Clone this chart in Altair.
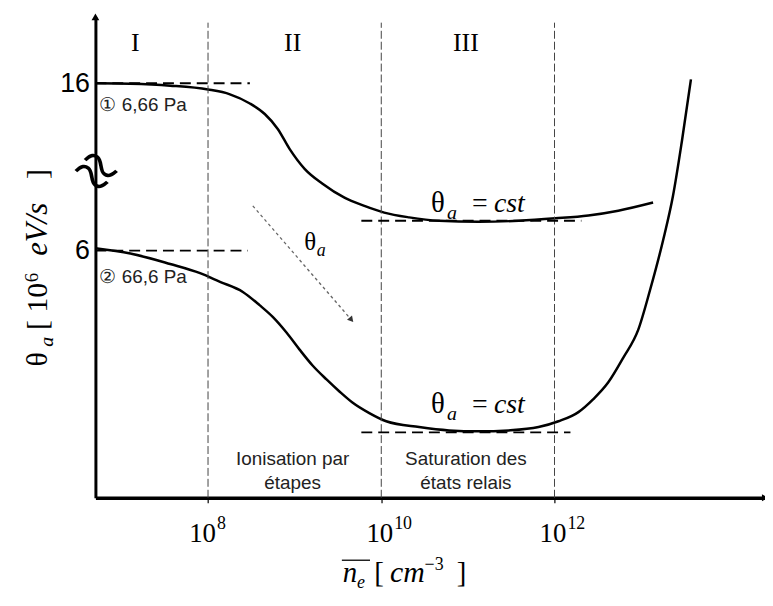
import altair as alt
import pandas as pd

# ---- data (x = log10 of n_e in cm^-3, y = schematic theta units 0..100) ----
x_curve1 = [6.70, 7.103, 7.563, 8.0, 8.253, 8.483, 8.655, 8.805, 8.943, 9.115, 9.322, 9.575,
            9.805, 10.034, 10.322, 10.667, 11.126, 11.586, 12.011, 12.391, 12.736, 13.138]
y_curve1 = [86.2, 86.1, 85.7, 84.9, 83.9, 82.0, 79.8, 76.7, 72.5, 68.4, 65.3, 62.4,
            60.7, 59.3, 58.3, 57.6, 57.4, 57.6, 58.1, 58.7, 59.7, 61.4]

x_curve2 = [6.70, 7.103, 7.563, 7.908, 8.138, 8.402, 8.598, 8.747, 8.908, 9.057, 9.207, 9.368,
            9.517, 9.667, 9.862, 10.057, 10.437, 10.782, 11.126, 11.471, 11.816, 12.046, 12.276,
            12.448, 12.621, 12.793, 12.966, 13.103, 13.253, 13.368, 13.471, 13.575]
y_curve2 = [51.9, 50.8, 48.6, 46.7, 44.9, 42.8, 40.0, 37.6, 34.3, 30.8, 27.5, 24.6,
            22.1, 19.8, 17.6, 15.9, 14.7, 14.0, 13.8, 14.0, 14.7, 15.9, 17.8,
            20.5, 24.0, 29.1, 34.9, 43.2, 53.5, 62.8, 74.2, 87.0]

# dashed horizontal guides
h_x1 = [6.70, 6.70, 9.77, 9.77]
h_x2 = [8.483, 8.46, 12.31, 12.184]
h_y = [86.2, 51.4, 57.6, 13.6]

# region borders
v_x = [8, 10, 12]

# axis ticks
x_ticks = [8, 10, 12]
x_tick_base = ["10", "10", "10"]
x_tick_exp = ["8", "10", "12"]
y_ticks = [51.4, 86.2]
y_tick_labels = ["6", "16"]

# region numerals
roman = ["I", "II", "III"]
roman_x = [7.161, 8.977, 10.977]
roman_y = [94.6, 94.6, 94.6]

# pressure labels
p_text = ["① 6,66 Pa", "② 66,6 Pa"]
p_x = [6.747, 6.747]
p_y = [80.4, 44.6]

# region descriptions
d_text = ["Ionisation par", "étapes", "Saturation des", "états relais"]
d_x = [8.977, 8.977, 10.977, 10.977]
d_y = [6.9, 1.9, 6.9, 1.9]

# "θa = cst" labels (upright parts and italic parts)
up_text = ["θ", "=", "θ", "="]
up_x = [10.575, 11.046, 10.575, 11.046]
up_y = [59.5, 59.5, 17.6, 17.6]
up_size = [29, 28, 29, 28]
it_text = ["a", "cst", "a", "cst", "a"]
it_x = [10.76, 11.30, 10.76, 11.30, 9.255]
it_y = [58.0, 59.5, 16.1, 17.6, 50.2]
it_size = [20, 28, 20, 28, 18]

# arrow showing the trend
arrow_x = [8.517, 9.655]
arrow_y = [60.7, 37.0]
arrow_label_x = [9.11]
arrow_label_y = [51.5]

# x-axis title pieces (below the axis)
xt_up_text = ["[", "−3", "]"]
xt_up_x = [9.92, 10.50, 10.87]
xt_up_y = [-17.6, -15.0, -17.6]
xt_up_size = [29, 18, 29]
xt_it_text = ["n", "e", "cm"]
xt_it_x = [9.555, 9.72, 10.10]
xt_it_y = [-17.6, -18.8, -17.6]
xt_it_size = [29, 18, 30]
xt_bar_x = [9.545, 9.87]
xt_bar_y = -13.0

# y-axis title pieces (rotated, left of the axis)
yt_up_text = ["θ", "[ 10", "6", "]"]
yt_up_x = [6.138, 6.138, 6.035, 6.138]
yt_up_y = [27.3, 34.9, 44.8, 66.3]
yt_up_size = [30, 30, 19, 30]
yt_it_text = ["a", "eV/s"]
yt_it_x = [6.207, 6.138]
yt_it_y = [31.4, 50.3]
yt_it_size = [20, 31]

x_domain = [6.70, 14.43]
y_domain = [0, 100]

# ---- build tables ----
curves = pd.concat([
    pd.DataFrame({"x": x_curve1, "y": y_curve1, "s": "6,66 Pa"}),
    pd.DataFrame({"x": x_curve2, "y": y_curve2, "s": "66,6 Pa"}),
])
hlines = pd.DataFrame({"x": h_x1, "x2": h_x2, "y": h_y})
vlines = pd.DataFrame({"x": v_x, "y": [0] * len(v_x), "y2": [98.8] * len(v_x)})
roman_df = pd.DataFrame({"x": roman_x, "y": roman_y, "t": roman})
p_df = pd.DataFrame({"x": p_x, "y": p_y, "t": p_text})
d_df = pd.DataFrame({"x": d_x, "y": d_y, "t": d_text})
up_df = pd.DataFrame({"x": up_x + xt_up_x, "y": up_y + xt_up_y, "t": up_text + xt_up_text,
                      "fs": up_size + xt_up_size})
it_df = pd.DataFrame({"x": it_x + xt_it_x, "y": it_y + xt_it_y, "t": it_text + xt_it_text,
                      "fs": it_size + xt_it_size})
yt_up_df = pd.DataFrame({"x": yt_up_x, "y": yt_up_y, "t": yt_up_text, "fs": yt_up_size})
yt_it_df = pd.DataFrame({"x": yt_it_x, "y": yt_it_y, "t": yt_it_text, "fs": yt_it_size})
bar_df = pd.DataFrame({"x": [xt_bar_x[0]], "x2": [xt_bar_x[1]], "y": [xt_bar_y]})
arrow_df = pd.DataFrame({"x": arrow_x, "y": arrow_y})
arrow_head = pd.DataFrame({"x": [arrow_x[-1]], "y": [arrow_y[-1]]})
theta_df = pd.DataFrame({"x": arrow_label_x, "y": arrow_label_y, "t": ["θ"]})
yarrow = pd.DataFrame({"x": [x_domain[0]], "y": [y_domain[1]]})
xarrow = pd.DataFrame({"x": [x_domain[1]], "y": [y_domain[0]]})
brk = pd.DataFrame({"x": [x_domain[0]], "y": [67.6], "t": ["≈"]})

xs = alt.Scale(domain=x_domain, nice=False, zero=False)
ys = alt.Scale(domain=y_domain, nice=False, zero=False)

y_label_expr = " : ".join(f"datum.value == {v} ? '{l}'" for v, l in zip(y_ticks, y_tick_labels)) + " : ''"

x_axis = alt.Axis(
    values=x_ticks, labels=False, grid=False, title="",
    domainColor="black", domainWidth=3.5, tickColor="black", tickSize=5, tickWidth=1.2,
)
y_axis = alt.Axis(
    values=y_ticks, labelExpr=y_label_expr, grid=False, ticks=False, title="",
    domainColor="black", domainWidth=3, labelFont="Liberation Sans", labelFontSize=27,
    labelColor="black", labelPadding=6,
)


def X():
    return alt.X("x:Q", scale=xs, axis=x_axis)


def Y():
    return alt.Y("y:Q", scale=ys, axis=y_axis)


layers = []

layers.append(alt.Chart(curves).mark_line(color="black", strokeWidth=2.5, interpolate="monotone").encode(
    x=X(), y=Y(), detail="s:N"))

layers.append(alt.Chart(vlines).mark_rule(color="#444", strokeWidth=1, strokeDash=[8, 3]).encode(
    x=X(), y=Y(), y2="y2:Q"))

layers.append(alt.Chart(hlines).mark_rule(color="black", strokeWidth=1.8, strokeDash=[11, 6]).encode(
    x=X(), x2="x2:Q", y=Y()))

layers.append(alt.Chart(arrow_df).mark_line(color="#666", strokeWidth=1.3, strokeDash=[3, 3]).encode(
    x=X(), y=Y()))
layers.append(alt.Chart(arrow_head).mark_point(shape="triangle-up", filled=True, color="#333", size=45,
                                               angle=139, opacity=1).encode(x=X(), y=Y()))

layers.append(alt.Chart(yarrow).mark_point(shape="triangle-up", filled=True, color="black", size=60,
                                           opacity=1).encode(x=X(), y=Y()))
layers.append(alt.Chart(xarrow).mark_point(shape="triangle-right", filled=True, color="black", size=50,
                                           opacity=1).encode(x=X(), y=Y()))

layers.append(alt.Chart(roman_df).mark_text(font="Liberation Serif", fontSize=26, color="black",
                                            baseline="middle").encode(x=X(), y=Y(), text="t:N"))
layers.append(alt.Chart(p_df).mark_text(font="Liberation Sans", fontSize=19, color="#222", align="left",
                                        baseline="alphabetic").encode(x=X(), y=Y(), text="t:N"))
layers.append(alt.Chart(d_df).mark_text(font="Liberation Sans", fontSize=19, color="#222", align="center",
                                        baseline="alphabetic").encode(x=X(), y=Y(), text="t:N"))
layers.append(alt.Chart(up_df).mark_text(font="Liberation Serif", color="black", align="left",
                                         baseline="alphabetic").encode(
    x=X(), y=Y(), text="t:N", size=alt.Size("fs:Q", scale=None, legend=None)))
layers.append(alt.Chart(it_df).mark_text(font="Liberation Serif", fontStyle="italic", color="black",
                                         align="left", baseline="alphabetic").encode(
    x=X(), y=Y(), text="t:N", size=alt.Size("fs:Q", scale=None, legend=None)))
layers.append(alt.Chart(yt_up_df).mark_text(font="Liberation Serif", color="black", align="left",
                                            baseline="alphabetic", angle=270).encode(
    x=X(), y=Y(), text="t:N", size=alt.Size("fs:Q", scale=None, legend=None)))
layers.append(alt.Chart(yt_it_df).mark_text(font="Liberation Serif", fontStyle="italic", color="black",
                                            align="left", baseline="alphabetic", angle=270).encode(
    x=X(), y=Y(), text="t:N", size=alt.Size("fs:Q", scale=None, legend=None)))
layers.append(alt.Chart(bar_df).mark_rule(color="black", strokeWidth=1.3).encode(
    x=X(), x2="x2:Q", y=Y()))
layers.append(alt.Chart(theta_df).mark_text(font="Liberation Serif", fontSize=25, color="black",
                                            align="left", baseline="alphabetic").encode(
    x=X(), y=Y(), text="t:N"))
layers.append(alt.Chart(brk).mark_text(font="Liberation Serif", fontSize=72, color="black", angle=40,
                                       baseline="middle", align="center").encode(
    x=X(), y=Y(), text="t:N"))

# x tick labels: "10" with a raised exponent
for v, b, e in zip(x_ticks, x_tick_base, x_tick_exp):
    shift = 4 + 4 * len(e)
    df = pd.DataFrame({"x": [v], "yb": [-9.2], "ye": [-6.6], "b": [b], "e": [e]})
    layers.append(alt.Chart(df).mark_text(font="Liberation Serif", fontSize=27, color="black",
                                          align="right", baseline="alphabetic", dx=shift).encode(
        x=X(), y=alt.Y("yb:Q", scale=ys, axis=y_axis), text="b:N"))
    layers.append(alt.Chart(df).mark_text(font="Liberation Serif", fontSize=18, color="black",
                                          align="left", baseline="alphabetic", dx=shift + 1).encode(
        x=X(), y=alt.Y("ye:Q", scale=ys, axis=y_axis), text="e:N"))

chart = alt.layer(*layers).properties(
    width=674, height=484,
    padding={"left": 88, "top": 7, "right": 0, "bottom": 100},
    autosize=alt.AutoSizeParams(type="none"),
).configure_view(stroke=None)

chart.save("out.html", embed_options={"renderer": "svg", "actions": False})
